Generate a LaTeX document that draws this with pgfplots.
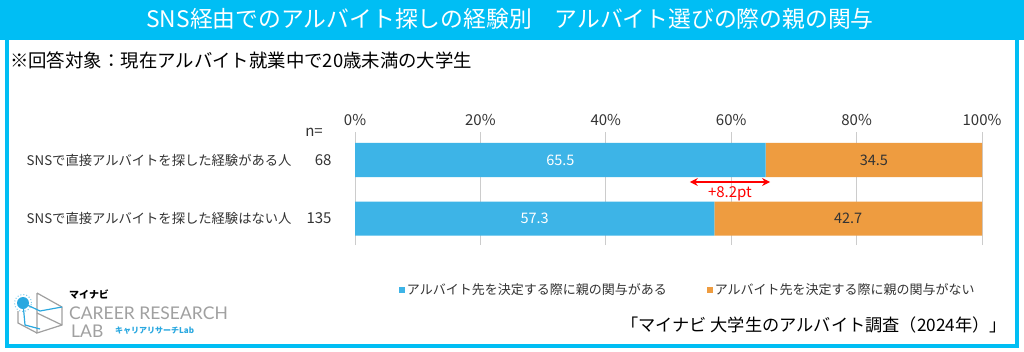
\documentclass[border=0pt]{standalone}
\usepackage{pgfplots}
\pgfplotsset{compat=1.18}
\usetikzlibrary{arrows.meta}
\usepackage{fontspec}
\setmainfont{Noto Sans CJK JP}
\newfontfamily\logofont{Lato}
\definecolor{teal1}{HTML}{00BEF4}
\definecolor{barblue}{HTML}{3DB4E7}
\definecolor{barorange}{HTML}{EE9C40}
\definecolor{txt}{HTML}{333333}
\definecolor{logogrey}{HTML}{A0A0A0}
\definecolor{logoblue}{HTML}{29A8E0}
\newcommand{\fs}[1]{\fontsize{#1bp}{#1bp}\selectfont}
\begin{document}
\begin{tikzpicture}[x=1bp,y=1bp]
\fill[white] (0,0) rectangle (1024,351);
\fill[teal1] (0,311) rectangle (1024,351);
\draw[teal1, line width=4bp] (7,313) -- (7,5) -- (1017,5) -- (1017,313);
\node[text=white, font=\fs{22.8}] at (510,332) {SNS経由でのアルバイト探しの経験別　アルバイト選びの際の親の関与};
\node[anchor=west, text=black, font=\fs{18.4}, inner sep=0pt] at (10,291) {※回答対象：現在アルバイト就業中で20歳未満の大学生};
\node[text=txt, font=\fs{15}, inner sep=0pt] at (314,219) {n=};

\begin{axis}[
  at={(355bp,106bp)}, anchor=south west,
  scale only axis, width=627bp, height=113bp,
  xmin=0, xmax=100, ymin=0, ymax=113,
  xbar stacked, bar width=34,
  axis line style={draw=none},
  major tick style={draw=none},
  xtick={0,20,40,60,80,100},
  xticklabel pos=upper,
  xticklabel={\pgfmathprintnumber{\tick}\%},
  xticklabel style={font=\fs{15}, text=txt, yshift=3bp},
  xmajorgrids, grid style={draw=gray!40, line width=0.8pt},
  ytick={85,26.5},
  yticklabels={{SNSで直接アルバイトを探した経験がある人\makebox[40bp][r]{\fs{15}68}},{SNSで直接アルバイトを探した経験はない人\makebox[40bp][r]{\fs{15}135}}},
  yticklabel style={font=\fs{13.3}, text=txt, anchor=east, xshift=-20bp},
  /pgf/number format/assume math mode=true,
  clip=false,
  legend columns=2,
  legend style={at={(axis cs:6.5,-45)}, anchor=west, draw=none, fill=none, font=\fs{13}, text=txt, /tikz/every even column/.append style={column sep=38bp}},
  legend image code/.code={\fill[#1,draw=none] (0bp,-3bp) rectangle (6bp,3bp);},
]
\addplot[fill=barblue, draw=none] coordinates {(65.5,85) (57.3,26.5)};
\addlegendentry{アルバイト先を決定する際に親の関与がある}
\addplot[fill=barorange, draw=none] coordinates {(34.5,85) (42.7,26.5)};
\addlegendentry{アルバイト先を決定する際に親の関与がない}
\draw[{Stealth[length=8bp,width=8bp]}-{Stealth[length=8bp,width=8bp]}, red, line width=2.2bp] (axis cs:53.4,63) -- (axis cs:66.2,63);
\node[text=red, font=\fs{15}] at (axis cs:59.8,51) {+8.2pt};
\end{axis}

\begin{axis}[
  at={(355bp,106bp)}, anchor=south west,
  scale only axis, width=627bp, height=113bp,
  xmin=0, xmax=100, ymin=0, ymax=113,
  hide axis, clip=false,
  every node near coord/.append style={anchor=center, font=\fs{14.5}},
]
\addplot[draw=none, mark=none, nodes near coords, point meta=explicit symbolic, every node near coord/.append style={text=white}] coordinates {(32.75,85)[65.5] (28.65,26.5)[57.3]};
\addplot[draw=none, mark=none, nodes near coords, point meta=explicit symbolic, every node near coord/.append style={text=txt}] coordinates {(82.75,85)[34.5] (78.65,26.5)[42.7]};
\end{axis}

\node[anchor=east, text=black, font=\fs{17.2}, inner sep=0pt] at (1007,26) {「マイナビ 大学生のアルバイト調査（2024年）」};

% logo
\draw[logogrey, line width=1.2bp] (37,58) -- (37,18) -- (62,26) -- (62,44) -- (37,58);
\draw[logogrey, line width=1.2bp] (37,18) -- (18,28) -- (18,40);
\draw[logogrey, line width=1.2bp] (37,38) -- (62,26);
\draw[logoblue, line width=1.2bp] (23,48) -- (25,26) -- (40,22);
\draw[logoblue, line width=1.2bp] (23,48) -- (40,40) -- (62,44);
\fill[logoblue] (23,48) circle (6);
\draw[logoblue!60, dotted, line width=1bp] (23,48) circle (8.5);
\node[anchor=west, inner sep=0pt, font=\fs{10}\bfseries] at (69,56) {マイナビ};
\node[anchor=west, inner sep=0pt, font=\logofont\fs{17.5}, text=logogrey] at (69,38) {CAREER RESEARCH};
\node[anchor=west, inner sep=0pt, font=\logofont\fs{17.5}, text=logogrey] at (71,20) {LAB};
\node[anchor=west, inner sep=0pt, font=\fs{8}\bfseries, text=logoblue] at (115,20) {キャリアリサーチLab};
\end{tikzpicture}
\end{document}
